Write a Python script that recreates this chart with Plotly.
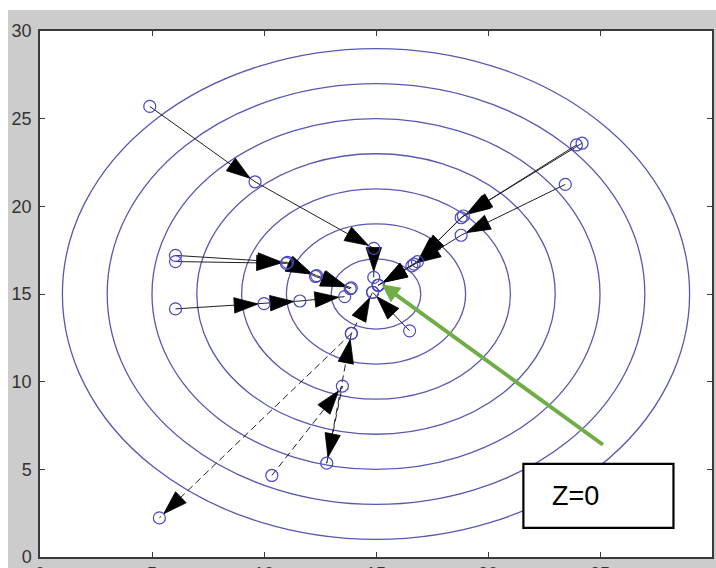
import plotly.graph_objects as go

# Level curves of the objective around its minimum
center_x, center_y = 15, 15
contour_radii = [2, 4, 6, 8, 10, 12, 14]

tick_vals = [0, 5, 10, 15, 20, 25, 30]

# Descent paths (solid): start point followed by successive iterates
path_a_x = [4.9, 9.6, 14.9, 14.9]
path_a_y = [25.7, 21.4, 17.6, 15.95]

path_b1_x = [23.95, 18.8, 16.85, 15.1]
path_b1_y = [23.5, 19.35, 16.85, 15.5]
path_b2_x = [24.2, 18.9, 16.7, 15.1]
path_b2_y = [23.6, 19.45, 16.7, 15.5]
path_b3_x = [23.45, 18.8, 16.6, 15.1]
path_b3_y = [21.25, 18.35, 16.6, 15.5]

path_c1_x = [6.05, 11.05, 12.35, 13.9]
path_c1_y = [17.2, 16.8, 16.05, 15.35]
path_c2_x = [6.05, 11.0, 12.3, 13.85]
path_c2_y = [16.85, 16.75, 16.0, 15.3]
path_c3_x = [6.05, 10.0, 11.6, 13.6]
path_c3_y = [14.15, 14.45, 14.6, 14.85]

path_e_x = [16.5, 14.85]
path_e_y = [12.9, 15.1]

# Oscillating paths (dashed)
path_d1_x = [10.35, 13.5, 12.8, 13.9, 14.85]
path_d1_y = [4.65, 9.75, 5.35, 12.75, 15.1]
path_d2_x = [13.9, 5.33]
path_d2_y = [12.75, 2.23]

solid_paths = [(path_a_x, path_a_y), (path_b1_x, path_b1_y), (path_b2_x, path_b2_y),
               (path_b3_x, path_b3_y), (path_c1_x, path_c1_y), (path_c2_x, path_c2_y),
               (path_c3_x, path_c3_y), (path_e_x, path_e_y)]
dashed_paths = [(path_d1_x, path_d1_y), (path_d2_x, path_d2_y)]

# Pointer to the optimum and its label
pointer_tail = (25.2, 6.34)
pointer_head = (15.25, 15.55)
label_text = "Z=0"
label_box_x = [21.58, 28.28]
label_box_y = [1.66, 5.31]

CONTOUR_BLUE = "#5858b4"
POINT_BLUE = "#4848c4"
INK = "#000000"
GREEN = "#70ad47"
FRAME = "#3a3a3a"

fig = go.Figure()

for r in contour_radii:
    fig.add_shape(type="circle", xref="x", yref="y",
                  x0=center_x - r, x1=center_x + r, y0=center_y - r, y1=center_y + r,
                  line=dict(color=CONTOUR_BLUE, width=1.3), layer="below")


def add_path(px, py, dash):
    sizes = [0] + [25] * (len(px) - 1)
    fig.add_trace(go.Scatter(
        x=px, y=py, mode="lines+markers",
        line=dict(color="#202020", width=1, dash=dash, backoff=0),
        marker=dict(symbol="arrow", size=sizes, angleref="previous", standoff=6,
                    color=INK, opacity=1, line=dict(width=0.8, color=INK)),
        hoverinfo="skip", showlegend=False))


for px, py in solid_paths:
    add_path(px, py, "solid")
for px, py in dashed_paths:
    add_path(px, py, "7px,4px")

all_x = [v for px, _ in solid_paths + dashed_paths for v in px]
all_y = [v for _, py in solid_paths + dashed_paths for v in py]
fig.add_trace(go.Scatter(
    x=all_x, y=all_y, mode="markers",
    marker=dict(symbol="circle-open", size=12, color=POINT_BLUE, line=dict(width=1.2)),
    hoverinfo="skip", showlegend=False))

fig.add_annotation(x=pointer_head[0], y=pointer_head[1], ax=pointer_tail[0], ay=pointer_tail[1],
                   xref="x", yref="y", axref="x", ayref="y", text="", showarrow=True,
                   arrowhead=2, arrowsize=0.9, arrowwidth=4, arrowcolor=GREEN)

fig.add_shape(type="rect", xref="x", yref="y",
              x0=label_box_x[0], x1=label_box_x[1], y0=label_box_y[0], y1=label_box_y[1],
              line=dict(color="black", width=2.2), fillcolor="white", layer="above")
fig.add_annotation(x=label_box_x[0], y=(label_box_y[0] + label_box_y[1]) / 2, xref="x", yref="y",
                   text=label_text, showarrow=False, xanchor="left", xshift=27,
                   font=dict(family="Liberation Sans", size=27, color="black"))

# white margin strips around the grey figure area
fig.add_shape(type="rect", xref="paper", yref="paper", x0=-0.2, x1=1.2, y0=1.04, y1=1.2,
              fillcolor="white", line=dict(width=0), layer="above")
fig.add_shape(type="rect", xref="paper", yref="paper", x0=-0.2, x1=-0.0476, y0=-0.2, y1=1.2,
              fillcolor="white", line=dict(width=0), layer="above")

axis_style = dict(showgrid=False, zeroline=False, showline=True, linecolor=FRAME, linewidth=1.5,
                  mirror="ticks", ticks="inside", ticklen=5, tickwidth=1, tickcolor=FRAME,
                  automargin=False, tickvals=tick_vals,
                  tickfont=dict(family="Liberation Sans", size=18, color="#333333"))

fig.update_xaxes(range=[0, 30], ticklabelstandoff=0, **axis_style)
fig.update_yaxes(range=[0, 30], ticklabelstandoff=3, **axis_style)

fig.update_layout(width=716, height=568, margin=dict(l=40, r=4, t=31, b=11),
                  paper_bgcolor="#cccccc", plot_bgcolor="white")

fig.write_html("out.html")
